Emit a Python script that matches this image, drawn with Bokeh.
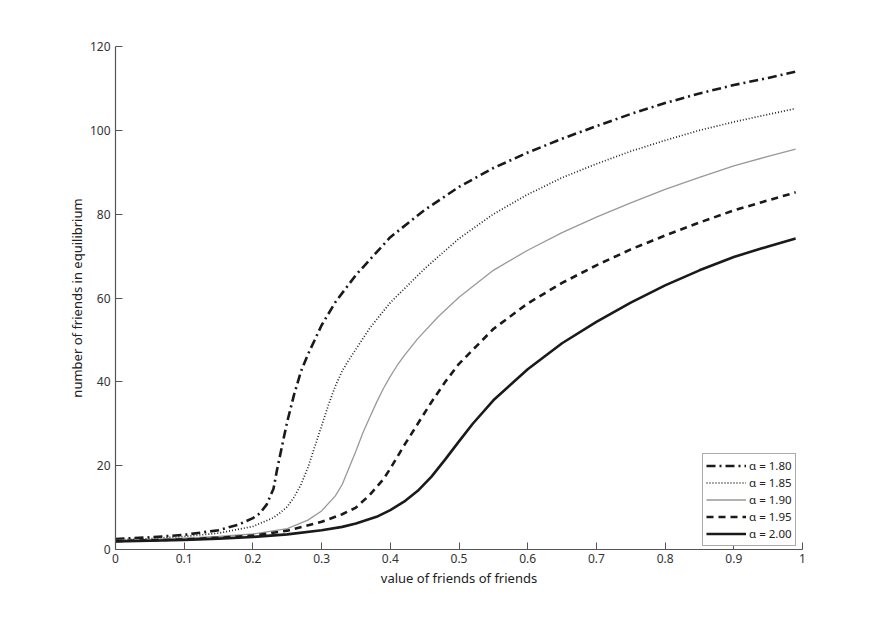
from bokeh.plotting import figure
from bokeh.models import Range1d, Legend, LegendItem, FixedTicker
from bokeh.embed import file_html
from bokeh.resources import INLINE

# ---- data ----
x_180 = [0, 0.05, 0.1, 0.15, 0.18, 0.2, 0.21, 0.22, 0.23, 0.235, 0.24, 0.245, 0.25, 0.26, 0.27, 0.28,
         0.3, 0.32, 0.35, 0.4, 0.45, 0.5, 0.55, 0.6, 0.65, 0.7, 0.75, 0.8, 0.85, 0.9, 0.95, 0.99]
y_180 = [2.5, 2.9, 3.5, 4.6, 6.0, 7.5, 8.6, 10.7, 14.5, 18.9, 22.8, 26.7, 30.5, 37.0, 42.5, 46.5,
         53.5, 59.0, 65.5, 74.5, 81.0, 86.5, 91.0, 94.7, 98.0, 101.0, 103.9, 106.5, 108.8, 110.8, 112.5, 114.0]

x_185 = [0, 0.05, 0.1, 0.15, 0.2, 0.23, 0.24, 0.25, 0.26, 0.27, 0.28, 0.29, 0.3, 0.31, 0.32, 0.33,
         0.34, 0.35, 0.37, 0.4, 0.45, 0.5, 0.55, 0.6, 0.65, 0.7, 0.75, 0.8, 0.85, 0.9, 0.95, 0.99]
y_185 = [2.3, 2.6, 3.1, 3.9, 5.5, 7.6, 8.8, 10.2, 12.5, 15.5, 19.5, 24.5, 29.5, 34.5, 39.0, 42.6,
         45.3, 47.8, 52.8, 58.9, 67.0, 74.2, 80.0, 84.7, 88.7, 92.0, 95.0, 97.6, 100.0, 102.0, 103.8, 105.2]

x_190 = [0, 0.05, 0.1, 0.15, 0.2, 0.25, 0.28, 0.3, 0.32, 0.33, 0.34, 0.35, 0.36, 0.37, 0.38, 0.39,
         0.4, 0.41, 0.42, 0.44, 0.47, 0.5, 0.55, 0.6, 0.65, 0.7, 0.75, 0.8, 0.85, 0.9, 0.95, 0.99]
y_190 = [2.2, 2.4, 2.7, 3.1, 3.7, 5.0, 7.0, 9.2, 12.8, 15.5, 19.5, 23.5, 27.8, 31.5, 35.1, 38.4,
         41.3, 43.9, 46.2, 50.3, 55.6, 60.2, 66.6, 71.4, 75.6, 79.3, 82.7, 85.9, 88.8, 91.5, 93.8, 95.5]

x_195 = [0, 0.05, 0.1, 0.15, 0.2, 0.25, 0.3, 0.33, 0.35, 0.37, 0.39, 0.4, 0.42, 0.44, 0.46, 0.48,
         0.5, 0.55, 0.6, 0.65, 0.7, 0.75, 0.8, 0.85, 0.9, 0.95, 0.99]
y_195 = [2.0, 2.2, 2.4, 2.8, 3.3, 4.5, 6.6, 8.4, 10.0, 13.0, 16.8, 19.3, 24.8, 30.0, 35.2, 40.0,
         44.3, 52.6, 58.7, 63.6, 67.8, 71.6, 74.9, 78.0, 80.9, 83.3, 85.2]

x_200 = [0, 0.05, 0.1, 0.15, 0.2, 0.25, 0.3, 0.33, 0.35, 0.38, 0.4, 0.42, 0.44, 0.46, 0.48, 0.5, 0.52,
         0.55, 0.6, 0.65, 0.7, 0.75, 0.8, 0.85, 0.9, 0.95, 0.99]
y_200 = [1.9, 2.1, 2.3, 2.6, 3.0, 3.6, 4.6, 5.4, 6.2, 7.8, 9.4, 11.4, 14.0, 17.4, 21.5, 25.8, 30.0,
         35.6, 43.0, 49.2, 54.3, 58.9, 63.0, 66.6, 69.8, 72.3, 74.2]

series_labels = ["α = 1.80", "α = 1.85", "α = 1.90", "α = 1.95", "α = 2.00"]

x_ticks = [0, 0.1, 0.2, 0.3, 0.4, 0.5, 0.6, 0.7, 0.8, 0.9, 1.0]
x_tick_labels = ["0", "0.1", "0.2", "0.3", "0.4", "0.5", "0.6", "0.7", "0.8", "0.9", "1"]
y_ticks = [0, 20, 40, 60, 80, 100, 120]
y_tick_labels = ["0", "20", "40", "60", "80", "100", "120"]

FONT = "Noto Sans"

p = figure(width=870, height=600, output_backend="svg", toolbar_location=None,
           x_range=Range1d(0, 1), y_range=Range1d(0, 120),
           min_border_left=115, min_border_right=68, min_border_top=46, min_border_bottom=51)
p.outline_line_color = None
p.xgrid.visible = False
p.ygrid.visible = False
p.background_fill_color = "white"
p.border_fill_color = "white"

styles = [
    dict(line_color="#1a1a1a", line_width=2.6, line_dash="9 4 2 4"),
    dict(line_color="#222222", line_width=1.7, line_dash="1 2"),
    dict(line_color="#999999", line_width=1.3, line_dash="solid"),
    dict(line_color="#1a1a1a", line_width=2.6, line_dash="7 5"),
    dict(line_color="#1a1a1a", line_width=2.6, line_dash="solid"),
]
xs = [x_180, x_185, x_190, x_195, x_200]
ys = [y_180, y_185, y_190, y_195, y_200]

items = []
for xv, yv, st, lab in zip(xs, ys, styles, series_labels):
    r = p.line(xv, yv, line_join="round", **st)
    items.append(LegendItem(label=lab, renderers=[r]))

legend = Legend(items=items, location=(587, 3))
legend.margin = 0
legend.padding = 3
legend.spacing = 0
legend.glyph_width = 40
legend.glyph_height = 17
legend.label_height = 17
legend.label_standoff = 3
legend.label_text_font = FONT
legend.label_text_font_size = "11.5px"
legend.label_text_color = "#222222"
legend.border_line_color = "#555555"
legend.border_line_width = 1
legend.background_fill_color = "white"
legend.background_fill_alpha = 1
p.add_layout(legend, "center")

for ax in (p.xaxis[0], p.yaxis[0]):
    ax.axis_line_color = "#555555"
    ax.axis_line_width = 1.2
    ax.major_tick_line_color = "#555555"
    ax.major_tick_in = 7
    ax.major_tick_out = 0
    ax.minor_tick_line_color = None
    ax.major_label_text_font = FONT
    ax.major_label_text_font_size = "12px"
    ax.major_label_text_color = "#333333"
    ax.axis_label_text_font = FONT
    ax.axis_label_text_font_size = "13px"
    ax.axis_label_text_font_style = "normal"
    ax.axis_label_text_color = "#222222"

p.xaxis.ticker = FixedTicker(ticks=x_ticks)
p.xaxis.major_label_overrides = {t: l for t, l in zip(x_ticks, x_tick_labels)}
p.yaxis.ticker = FixedTicker(ticks=y_ticks)
p.yaxis.major_label_overrides = {t: l for t, l in zip(y_ticks, y_tick_labels)}
p.xaxis.axis_label = "value of friends of friends"
p.yaxis.axis_label = "number of friends in equilibrium"
p.xaxis.major_label_standoff = 4
p.yaxis.major_label_standoff = 5
p.xaxis.axis_label_standoff = 3
p.yaxis.axis_label_standoff = 1

open("out.html", "w").write(file_html(p, INLINE))
